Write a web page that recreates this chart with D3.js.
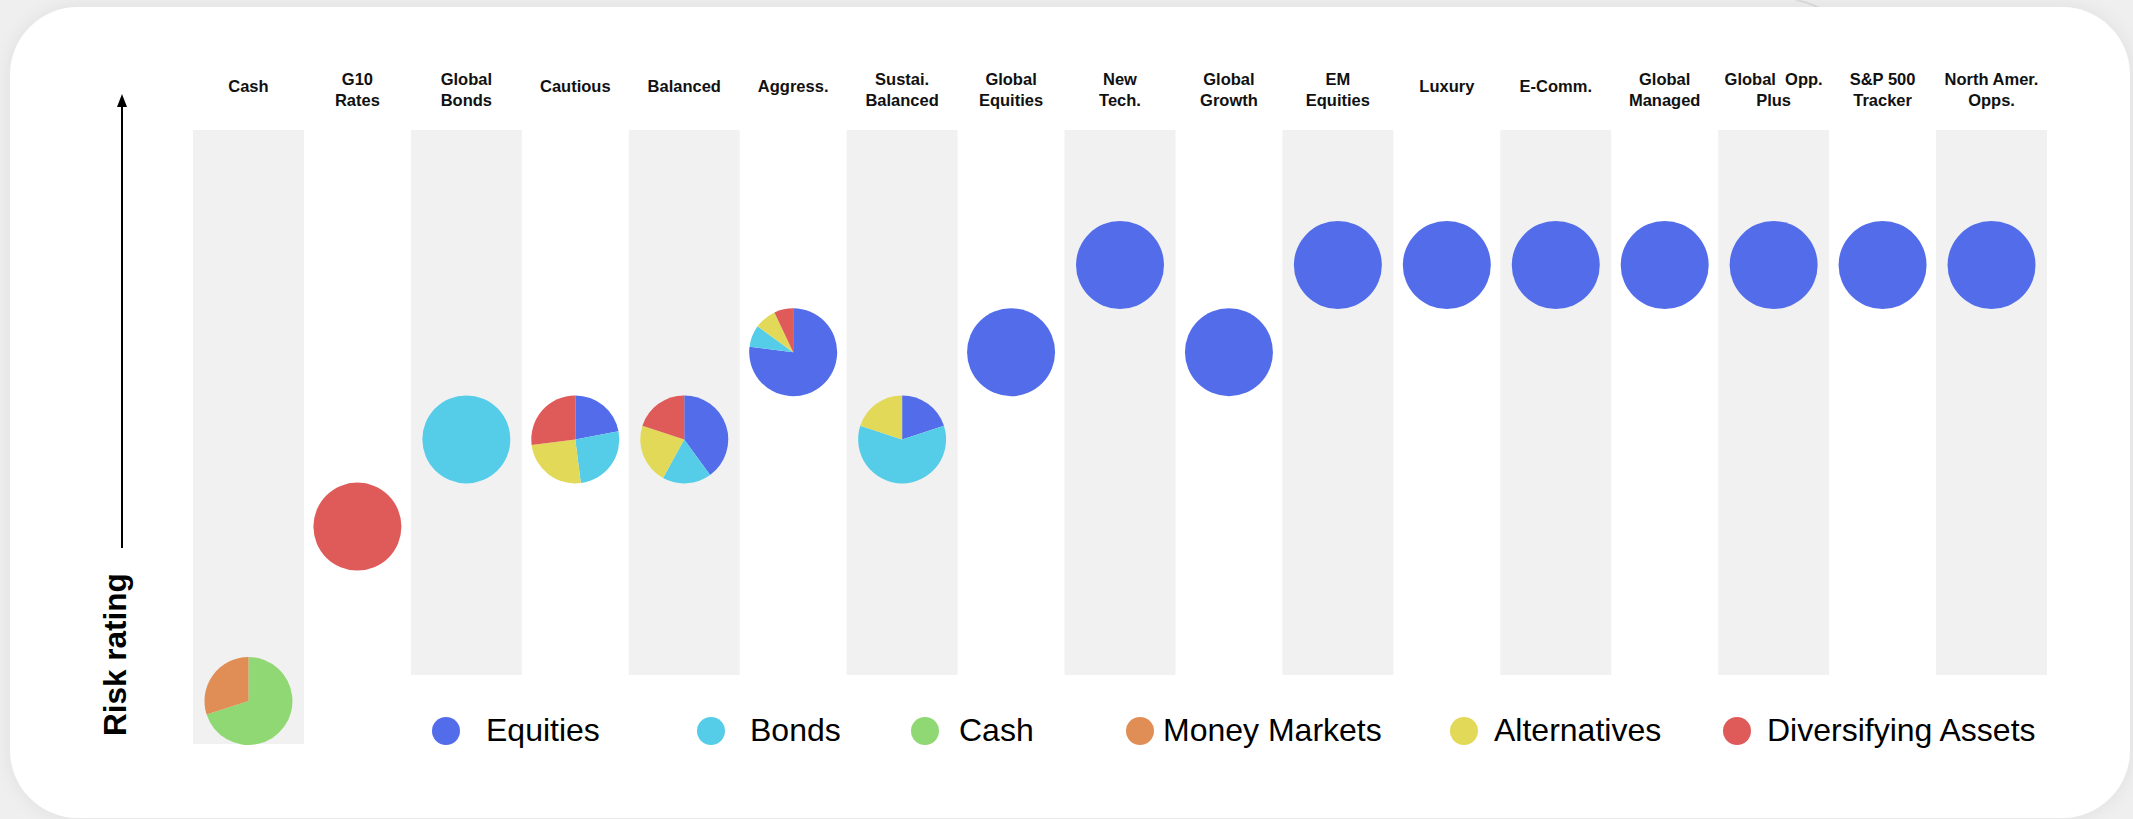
<!DOCTYPE html>
<html>
<head>
<meta charset="utf-8">
<script src="https://d3js.org/d3.v7.min.js"></script>
<style>
 body { margin: 0; background: #ededed; }
 svg { display: block; font-family: "Liberation Sans", Arial, Helvetica, sans-serif; }
</style>
</head>
<body>
<script>
 //fund names, one entry per column (line breaks as in the header)
var funds = ["Cash", "G10\nRates", "Global\nBonds", "Cautious", "Balanced", "Aggress.",
 "Sustai.\nBalanced", "Global\nEquities", "New\nTech.", "Global\nGrowth", "EM\nEquities",
 "Luxury", "E-Comm.", "Global\nManaged", "Global  Opp.\nPlus", "S&P 500\nTracker", "North Amer.\nOpps."];

 //risk rating of each fund (vertical position of its pie)
var riskRating = [1, 3, 4, 4, 4, 5, 4, 5, 6, 5, 6, 6, 6, 6, 6, 6, 6];

 //asset classes, in legend order
var assetClasses = ["Equities", "Bonds", "Cash", "Money Markets", "Alternatives", "Diversifying Assets"];
var assetColors = ["#536dea", "#55cde8", "#90d873", "#e08e56", "#e2d958", "#df5b5a"];

 //allocation (%) of each fund per asset class
var equities = [0, 0, 0, 22, 40, 77, 20, 100, 100, 100, 100, 100, 100, 100, 100, 100, 100];
var bonds = [0, 0, 100, 26, 18, 8, 60, 0, 0, 0, 0, 0, 0, 0, 0, 0, 0];
var cash = [70, 0, 0, 0, 0, 0, 0, 0, 0, 0, 0, 0, 0, 0, 0, 0, 0];
var moneyMarkets = [30, 0, 0, 0, 0, 0, 0, 0, 0, 0, 0, 0, 0, 0, 0, 0, 0];
var alternatives = [0, 0, 0, 25, 22, 8, 20, 0, 0, 0, 0, 0, 0, 0, 0, 0, 0];
var diversifying = [0, 100, 0, 27, 20, 7, 0, 0, 0, 0, 0, 0, 0, 0, 0, 0, 0];
var allocations = [equities, bonds, cash, moneyMarkets, alternatives, diversifying];

var width = 2133,
 height = 819,
 radius = 44;

 //legend layout (circle and label x positions)
var legendX = [446, 711, 925, 1140, 1464, 1737];
var legendTextX = [486, 750, 959, 1163, 1494, 1767];

var svg = d3.select("body").append("svg")
 .attr("width", width)
 .attr("height", height);

 //soft shadow for the white card
var defs = svg.append("defs");
var shadow = defs.append("filter").attr("id", "shadow")
 .attr("x", "-5%").attr("y", "-5%").attr("width", "110%").attr("height", "110%");
shadow.append("feDropShadow")
 .attr("dx", 0).attr("dy", 0)
 .attr("stdDeviation", 9)
 .attr("flood-color", "#000")
 .attr("flood-opacity", 0.07);

svg.append("rect")
 .attr("width", width).attr("height", height)
 .attr("fill", "#efefef");
svg.append("path")
 .attr("d", "M1796,0 C1814,4 1822,8 1826,14")
 .attr("fill", "none")
 .attr("stroke", "#dcdcdc")
 .attr("stroke-width", 2);
svg.append("rect")
 .attr("x", 10).attr("y", 7)
 .attr("width", 2120).attr("height", 811)
 .attr("rx", 68)
 .attr("fill", "#fff")
 .attr("filter", "url(#shadow)");

 //one column per fund
var x = d3.scaleBand()
 .domain(funds)
 .range([194, 2046])
 .paddingInner(0);

 //risk rating -> vertical position
var y = d3.scaleLinear()
 .domain([1, 6])
 .range([701, 265]);

 //shaded bands on every other column
svg.append("g").selectAll("rect")
 .data(funds.filter(function(d, i) { return i % 2 === 0; }))
 .enter().append("rect")
 .attr("x", function(d) { return x(d) - 1; })
 .attr("y", 130)
 .attr("width", x.bandwidth() + 2)
 .attr("height", function(d, i) { return i === 0 ? 614 : 545; })
 .attr("fill", "#f1f1f1");

 //column headers
var header = svg.append("g").selectAll("text")
 .data(funds)
 .enter().append("text")
 .attr("text-anchor", "middle")
 .attr("font-size", 16.5)
 .attr("font-weight", "bold")
 .attr("fill", "#111")
 .style("white-space", "pre");
header.each(function(d) {
 var lines = d.split("\n");
 var base = lines.length === 1 ? 92 : 85;
 var t = d3.select(this);
 lines.forEach(function(line, j) {
 t.append("tspan")
 .attr("x", x(d) + x.bandwidth() / 2)
 .attr("y", base + j * 21)
 .text(line);
 });
});

 //risk rating arrow
svg.append("line")
 .attr("x1", 122).attr("x2", 122)
 .attr("y1", 548).attr("y2", 104)
 .attr("stroke", "#000")
 .attr("stroke-width", 2);
svg.append("path")
 .attr("d", "M122,94 L127,107 L117,107 Z")
 .attr("fill", "#000");
svg.append("text")
 .attr("transform", "translate(126,736) rotate(-90)")
 .attr("font-size", 31.5)
 .attr("font-weight", "bold")
 .attr("fill", "#000")
 .text("Risk rating");

 //pie charts, one per fund
var pie = d3.pie()
 .sort(null)
 .value(function(d) { return d.value; });
var arc = d3.arc()
 .innerRadius(0)
 .outerRadius(radius);

var fundData = funds.map(function(f, i) {
 return {
 fund: f,
 rating: riskRating[i],
 parts: assetClasses.map(function(a, k) {
 return { asset: a, color: assetColors[k], value: allocations[k][i] };
 })
 };
});

var pies = svg.append("g").selectAll("g")
 .data(fundData)
 .enter().append("g")
 .attr("transform", function(d) {
 return "translate(" + (x(d.fund) + x.bandwidth() / 2) + "," + y(d.rating) + ")";
 });

pies.selectAll("path")
 .data(function(d) { return pie(d.parts).filter(function(s) { return s.value > 0; }); })
 .enter().append("path")
 .attr("d", arc)
 .attr("fill", function(d) { return d.data.color; });

 //legend
var legend = svg.append("g").selectAll("g")
 .data(assetClasses)
 .enter().append("g");
legend.append("circle")
 .attr("cx", function(d, i) { return legendX[i]; })
 .attr("cy", 731)
 .attr("r", 14)
 .attr("fill", function(d, i) { return assetColors[i]; });
legend.append("text")
 .attr("x", function(d, i) { return legendTextX[i]; })
 .attr("y", 741)
 .attr("font-size", 32)
 .attr("fill", "#000")
 .text(function(d) { return d; });
</script>
</body>
</html>
